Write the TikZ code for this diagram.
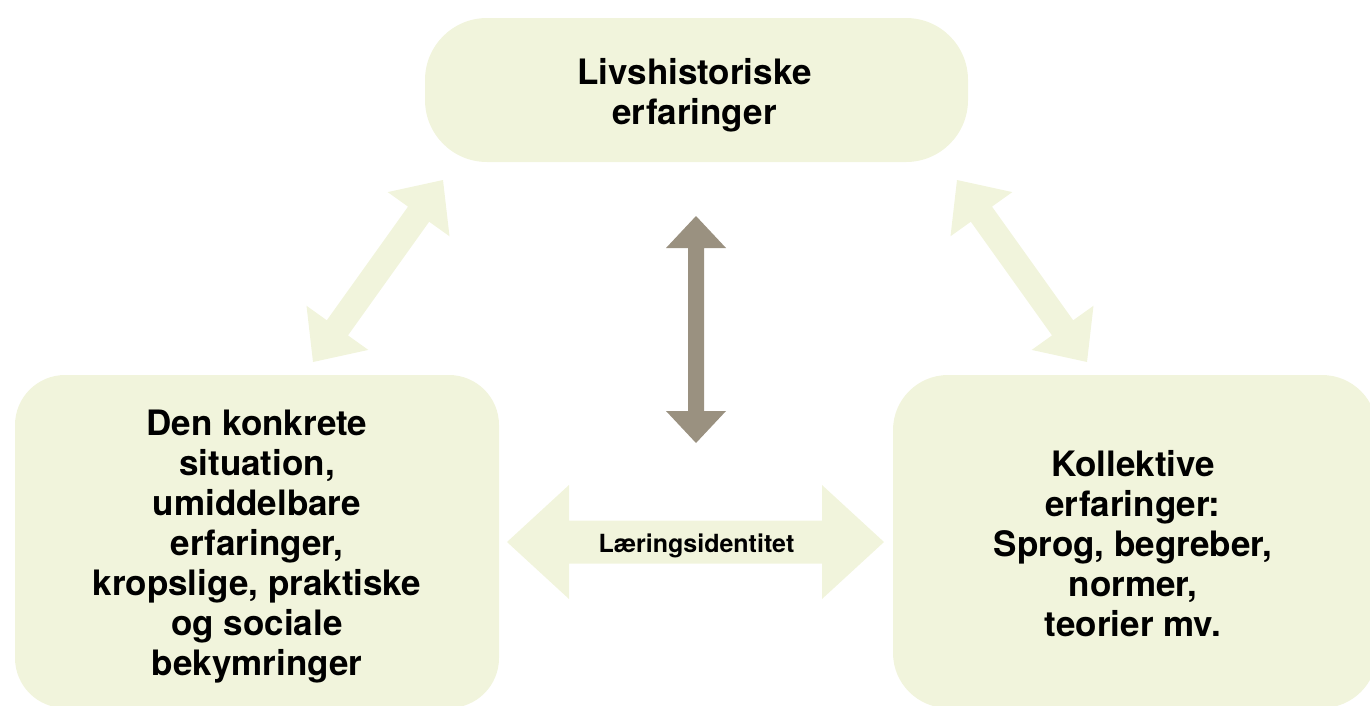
\documentclass[tikz,border=0pt]{standalone}
\usepackage{fontspec}
\setmainfont{TeX Gyre Heros}
\usetikzlibrary{calc}
\definecolor{boxfill}{HTML}{F1F4DC}
\definecolor{greyarrow}{HTML}{9A9180}
\newcommand{\blockarrow}[6]{%
  \fill[#6] (#1)
    -- ($($(#1)!#5!(#2)$)!#4!90:(#2)$)
    -- ($($(#1)!#5!(#2)$)!#3!90:(#2)$)
    -- ($($(#2)!#5!(#1)$)!#3!-90:(#1)$)
    -- ($($(#2)!#5!(#1)$)!#4!-90:(#1)$)
    -- (#2)
    -- ($($(#2)!#5!(#1)$)!#4!90:(#1)$)
    -- ($($(#2)!#5!(#1)$)!#3!90:(#1)$)
    -- ($($(#1)!#5!(#2)$)!#3!-90:(#2)$)
    -- ($($(#1)!#5!(#2)$)!#4!-90:(#2)$)
    -- cycle;}
\tikzset{
  box/.style={fill=boxfill, draw=none, inner sep=0pt},
  boxtext/.style={inner sep=0pt, align=center,
    font=\fontsize{35}{40}\selectfont\bfseries},
  lbl/.style={inner sep=0pt, font=\fontsize{25}{28}\selectfont\bfseries}
}
\begin{document}
\begin{tikzpicture}[x=1pt,y=-1pt]
\useasboundingbox (0,0) rectangle (1370,705);
\node[box, minimum width=543pt, minimum height=144pt, rounded corners=62pt] (top) at (696.5,90) {};
\node[box, minimum width=484pt, minimum height=333pt, rounded corners=50pt] (left) at (257,541.5) {};
\node[box, minimum width=484pt, minimum height=333pt, rounded corners=55pt] (right) at (1135,541.5) {};
\node[boxtext] (toptext) at ($(top.center)+(-2,5)$) {Livshistoriske\\erfaringer};
\node[boxtext] (lefttext) at ($(left.center)+(0,5)$) {Den konkrete\\situation,\\umiddelbare\\erfaringer,\\kropslige, praktiske\\og sociale\\bekymringer};
\node[boxtext] (righttext) at ($(right.center)+(-2,2)$) {Kollektive\\erfaringer:\\Sprog, begreber,\\normer,\\teorier mv.};
% arrow tips
\coordinate (la1) at (443,180);
\coordinate (la2) at (313,362);
\coordinate (ra1) at (957,180);
\coordinate (ra2) at (1087,362);
\coordinate (va1) at (696,216);
\coordinate (va2) at (696,443);
\coordinate (ha1) at (507,542);
\coordinate (ha2) at (884,542);
\blockarrow{la1}{la2}{13pt}{38pt}{42pt}{boxfill}
\blockarrow{ra1}{ra2}{13pt}{38pt}{42pt}{boxfill}
\blockarrow{va1}{va2}{8pt}{30pt}{32pt}{greyarrow}
\blockarrow{ha1}{ha2}{21.5pt}{57pt}{62pt}{boxfill}
\node[lbl] (lab) at (696.5,546) {Læringsidentitet};
\end{tikzpicture}
\end{document}
